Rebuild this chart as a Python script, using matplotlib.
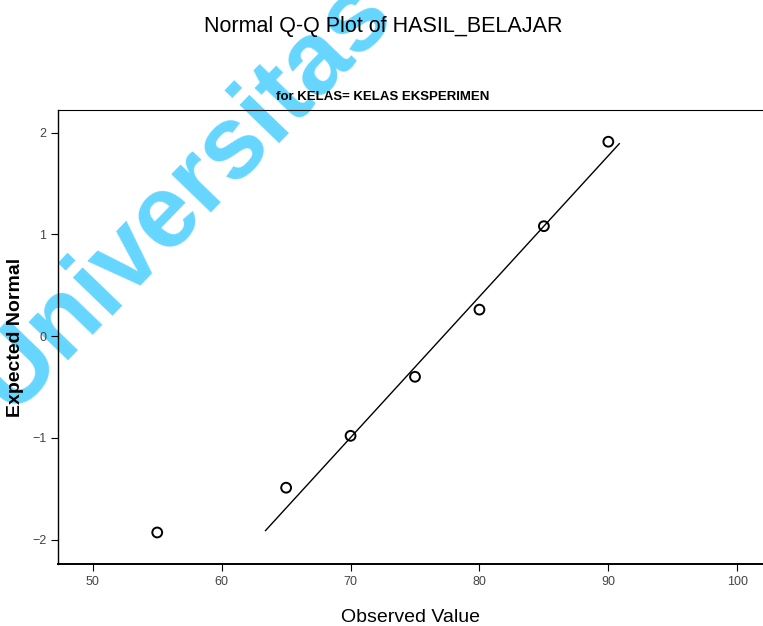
import matplotlib.pyplot as plt
import numpy as np

# observed scores and their expected normal values
observed = [55, 65, 70, 75, 80, 85, 90]
expected = [-1.93, -1.49, -0.98, -0.40, 0.26, 1.08, 1.91]

# reference line (mean / sd of the normal fit)
line_x = [63.4, 90.85]
mean_val = 77.2
sd_val = 7.22

x_ticks = [50, 60, 70, 80, 90, 100]
y_ticks = [-2, -1, 0, 1, 2]

plt.rcParams['font.family'] = ['Liberation Sans', 'DejaVu Sans']

fig = plt.figure(figsize=(7.63, 6.26), dpi=100)
ax = fig.add_axes([0.076, 0.099, 0.924, 0.725])
ax.patch.set_alpha(0)  # let the watermark show behind the plot

lx = np.array(line_x)
ax.plot(lx, (lx - mean_val) / sd_val, color='black', lw=1.0)
ax.scatter(observed, expected, s=50, facecolors='none', edgecolors='black',
           linewidths=1.4, zorder=3)

ax.set_xlim(47.3, 102.0)
ax.set_ylim(-2.24, 2.22)
ax.set_xticks(x_ticks)
ax.set_yticks(y_ticks)
ax.tick_params(axis='both', labelsize=9, labelcolor='#444444', length=5,
               width=0.8, direction='out')

ax.spines['right'].set_visible(False)
ax.spines['top'].set_linestyle((0, (3, 1)))
ax.spines['top'].set_linewidth(0.8)
ax.spines['left'].set_linewidth(1.0)
ax.spines['bottom'].set_linewidth(1.4)

ax.set_xlabel('Observed Value', fontsize=14, labelpad=15)
ax.set_ylabel('Expected Normal', fontsize=14, fontweight='bold', labelpad=6)

fig.text(0.502, 0.958, 'Normal Q-Q Plot of HASIL_BELAJAR', ha='center',
         va='center', fontsize=15.5, zorder=5)
fig.text(0.501, 0.845, 'for KELAS= KELAS EKSPERIMEN', ha='center', va='center',
         fontsize=9.5, fontweight='bold', zorder=5)

# watermark, kept underneath everything else
fig.text(0.242, 0.688, 'Universitas', ha='center', va='center', fontsize=74,
         fontweight='bold', color='#66d6ff', rotation=46, zorder=-1)

fig.savefig('out.png', dpi=100)
